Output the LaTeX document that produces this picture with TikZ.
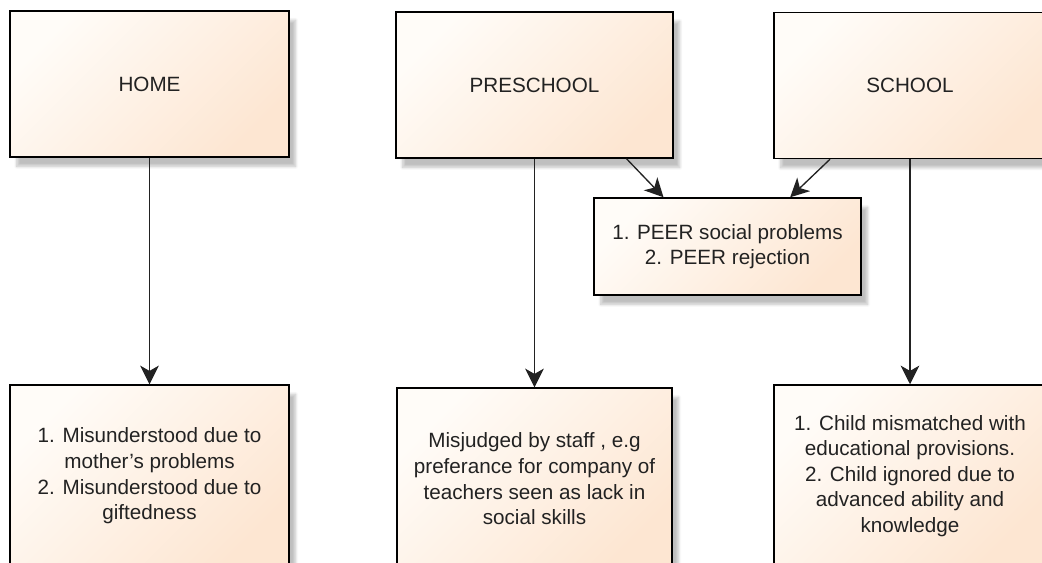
\documentclass[tikz,border=0pt]{standalone}
\usepackage{fontspec}
\setmainfont{Liberation Sans}
\usepackage[dvipsnames]{xcolor}
\usetikzlibrary{arrows.meta,shadows.blur}

\definecolor{peachlight}{HTML}{FFFCF8}
\definecolor{peachdark}{HTML}{FDE6D2}
\definecolor{inkgray}{HTML}{222222}

\begin{document}
\begin{tikzpicture}[x=0.75pt,y=-0.75pt,
    box/.style={draw=black,line width=1.1pt,top color=peachlight,bottom color=peachdark,shading angle=45,
        text=inkgray,align=center,inner sep=0pt,
        font=\fontsize{15.5}{19.2}\selectfont,
        blur shadow={shadow xshift=5pt,shadow yshift=-7pt,shadow opacity=25,shadow blur steps=10}},
    main box/.style={box,minimum width=209pt,minimum height=109.5pt},
    note box/.style={box,minimum width=206pt,minimum height=136.5pt},
    link/.style={-{Stealth[length=14pt,width=14pt,inset=4pt]},draw=inkgray,line width=1pt}]

            \clip (0,0) rectangle (1042,563);

            \node[main box] (home) at (149.5,84) {HOME};
            \node[main box, minimum width=207.75pt] (pre) at (534.5,85) {PRESCHOOL};
            \node[main box, minimum width=204pt] (school) at (910,85.5) {SCHOOL};

            \node[box, minimum width=200pt, minimum height=72.75pt] (peer) at (727.5,246.5)
                {1. PEER social problems\\2. PEER rejection};

            \node[note box, minimum width=209pt] (homenote) at (149.5,476)
                {1. Misunderstood due to\\mother's problems\\2. Misunderstood due to\\giftedness};
            \node[note box] (prenote) at (534.5,479)
                {Misjudged by staff , e.g\\preferance for company of\\teachers seen as lack in\\social skills};
            \node[note box, minimum width=204pt] (schoolnote) at (910,476)
                {1. Child mismatched with\\educational provisions.\\2. Child ignored due to\\advanced ability and\\knowledge};

            \draw[link] (home) to (homenote);
            \draw[link] (pre) to (prenote);
            \draw[link] (school) to (schoolnote);
            \draw[link] ([xshift=69pt]pre.south) to ([xshift=-48pt]peer.north);
            \draw[link] ([xshift=-60pt]school.south) to ([xshift=47pt]peer.north);

        \end{tikzpicture}
\end{document}
